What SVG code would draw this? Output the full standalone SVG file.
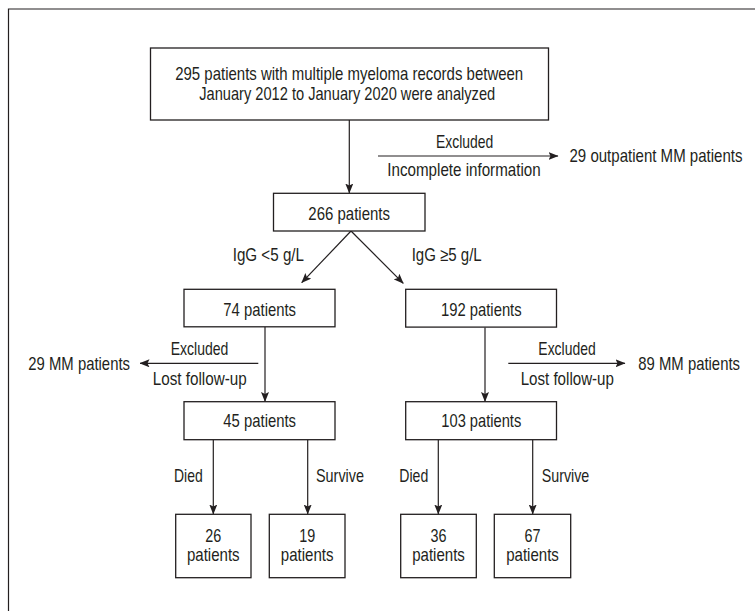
<svg xmlns="http://www.w3.org/2000/svg" width="755" height="611" viewBox="0 0 755 611">
<style>
  .box { fill: #ffffff; stroke: #231f20; stroke-width: 1.3; }
  .edge { fill: none; stroke: #231f20; stroke-width: 1.2; marker-end: url(#arrow); }
  text { font-family: "Liberation Sans", Arial, sans-serif; font-size: 18.5px; fill: #231f20; }
  .c { text-anchor: middle; }
  .e { text-anchor: end; }
</style>
<defs>
  <marker id="arrow" markerUnits="userSpaceOnUse" markerWidth="10" markerHeight="8" viewBox="0 0 10 8" refX="9.5" refY="4" orient="auto">
    <path d="M0,0 L10,4 L0,8 L2,4 z" fill="#231f20"/>
  </marker>
</defs>
<rect width="755" height="611" fill="#ffffff"/>
<path d="M8.5,611 V9 H755" fill="none" stroke="#231f20" stroke-width="1.2"/>

<g id="connectors">
  <line class="edge" x1="349.3" y1="120" x2="349.3" y2="193"/>
  <line class="edge" x1="378" y1="156" x2="558" y2="156"/>
  <line class="edge" x1="351" y1="231" x2="301.7" y2="282.7"/>
  <line class="edge" x1="351" y1="231" x2="403.3" y2="283.3"/>
  <line class="edge" x1="265" y1="327" x2="265" y2="401.5"/>
  <line class="edge" x1="258.3" y1="363.3" x2="140" y2="363.3"/>
  <line class="edge" x1="485" y1="327.5" x2="485" y2="401.5"/>
  <line class="edge" x1="508.3" y1="363.3" x2="625" y2="363.3"/>
  <line class="edge" x1="213.3" y1="440" x2="213.3" y2="514"/>
  <line class="edge" x1="307.7" y1="440" x2="307.7" y2="514"/>
  <line class="edge" x1="438.3" y1="440" x2="438.3" y2="514"/>
  <line class="edge" x1="532.7" y1="440" x2="532.7" y2="514"/>
</g>

<g id="labels">
  <text class="c" x="464.7" y="147.5" textLength="57.3" lengthAdjust="spacingAndGlyphs">Excluded</text>
  <text class="c" x="464" y="175.5" textLength="153.3" lengthAdjust="spacingAndGlyphs">Incomplete information</text>
  <text x="232.7" y="261" textLength="71.3" lengthAdjust="spacingAndGlyphs">IgG &lt;5 g/L</text>
  <text x="411.7" y="261" textLength="70" lengthAdjust="spacingAndGlyphs">IgG ≥5 g/L</text>
  <text class="c" x="199.5" y="355" textLength="57.7" lengthAdjust="spacingAndGlyphs">Excluded</text>
  <text class="c" x="199.7" y="385" textLength="94" lengthAdjust="spacingAndGlyphs">Lost follow-up</text>
  <text class="c" x="567" y="355" textLength="57.3" lengthAdjust="spacingAndGlyphs">Excluded</text>
  <text class="c" x="567.3" y="385" textLength="93.3" lengthAdjust="spacingAndGlyphs">Lost follow-up</text>
  <text x="174" y="482" textLength="28.7" lengthAdjust="spacingAndGlyphs">Died</text>
  <text x="316" y="482" textLength="48" lengthAdjust="spacingAndGlyphs">Survive</text>
  <text x="399.3" y="482" textLength="29" lengthAdjust="spacingAndGlyphs">Died</text>
  <text x="541.7" y="482" textLength="47.6" lengthAdjust="spacingAndGlyphs">Survive</text>
</g>

<g id="n-start">
  <rect class="box" x="150.5" y="48" width="398" height="72"/>
  <text class="c" x="349.2" y="80" textLength="348" lengthAdjust="spacingAndGlyphs">295 patients with multiple myeloma records between</text>
  <text class="c" x="347.2" y="99.5" textLength="296" lengthAdjust="spacingAndGlyphs">January 2012 to January 2020 were analyzed</text>
</g>
<g id="n-out1">
  <text class="e" x="742.5" y="161.5" textLength="173" lengthAdjust="spacingAndGlyphs">29 outpatient MM patients</text>
</g>
<g id="n-266">
  <rect class="box" x="273.5" y="193.3" width="151.5" height="37.7"/>
  <text class="c" x="349.2" y="220" textLength="81.7" lengthAdjust="spacingAndGlyphs">266 patients</text>
</g>
<g id="n-74">
  <rect class="box" x="184" y="289.3" width="151" height="37.5"/>
  <text class="c" x="259.7" y="316" textLength="72.7" lengthAdjust="spacingAndGlyphs">74 patients</text>
</g>
<g id="n-192">
  <rect class="box" x="405.7" y="289.3" width="150.8" height="37.8"/>
  <text class="c" x="481.3" y="315.5" textLength="80.7" lengthAdjust="spacingAndGlyphs">192 patients</text>
</g>
<g id="n-out2">
  <text x="28.3" y="370" textLength="101.7" lengthAdjust="spacingAndGlyphs">29 MM patients</text>
</g>
<g id="n-out3">
  <text class="e" x="740" y="369.5" textLength="101.7" lengthAdjust="spacingAndGlyphs">89 MM patients</text>
</g>
<g id="n-45">
  <rect class="box" x="184" y="401.7" width="151" height="38"/>
  <text class="c" x="259.7" y="427.3" textLength="72.7" lengthAdjust="spacingAndGlyphs">45 patients</text>
</g>
<g id="n-103">
  <rect class="box" x="405.7" y="401.7" width="150.8" height="38"/>
  <text class="c" x="481.3" y="427.3" textLength="80" lengthAdjust="spacingAndGlyphs">103 patients</text>
</g>
<g id="n-26">
  <rect class="box" x="175.7" y="514.3" width="75.3" height="63.4"/>
  <text class="c" x="213.3" y="541.5" textLength="16" lengthAdjust="spacingAndGlyphs">26</text>
  <text class="c" x="213.3" y="561" textLength="52.7" lengthAdjust="spacingAndGlyphs">patients</text>
</g>
<g id="n-19">
  <rect class="box" x="269.3" y="514.3" width="75.7" height="63.4"/>
  <text class="c" x="307.2" y="541.5" textLength="16" lengthAdjust="spacingAndGlyphs">19</text>
  <text class="c" x="307.2" y="561" textLength="52.7" lengthAdjust="spacingAndGlyphs">patients</text>
</g>
<g id="n-36">
  <rect class="box" x="400.7" y="514.3" width="75.6" height="63.4"/>
  <text class="c" x="438.5" y="541.5" textLength="16" lengthAdjust="spacingAndGlyphs">36</text>
  <text class="c" x="438.5" y="561" textLength="52.7" lengthAdjust="spacingAndGlyphs">patients</text>
</g>
<g id="n-67">
  <rect class="box" x="494.3" y="514.3" width="76.4" height="63.4"/>
  <text class="c" x="532.5" y="541.5" textLength="16" lengthAdjust="spacingAndGlyphs">67</text>
  <text class="c" x="532.5" y="561" textLength="52.7" lengthAdjust="spacingAndGlyphs">patients</text>
</g>
</svg>
